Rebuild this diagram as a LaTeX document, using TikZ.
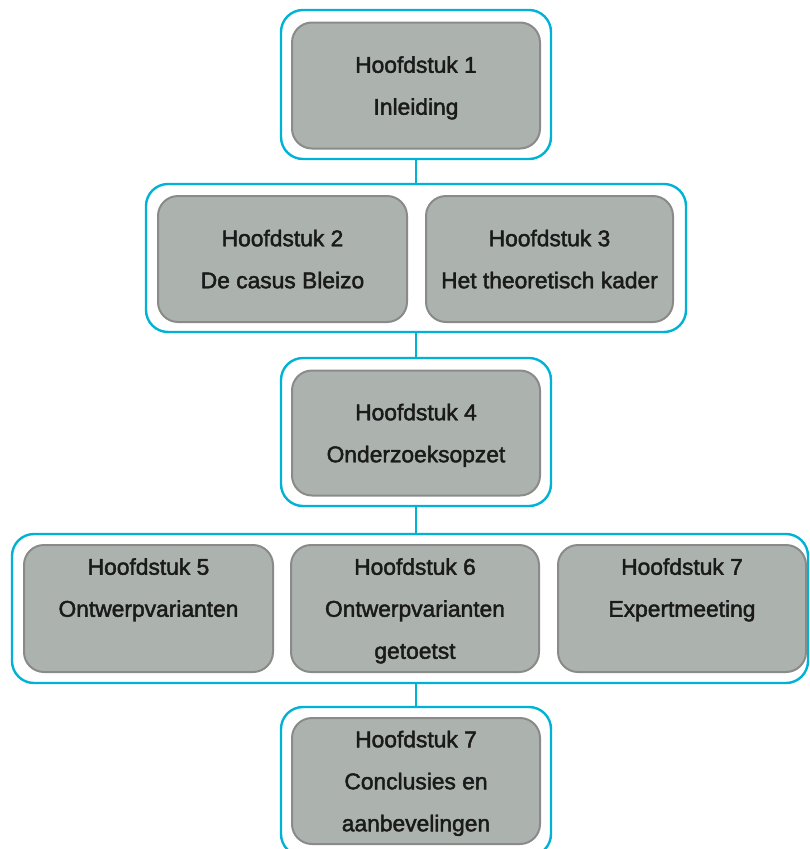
\documentclass[tikz,border=0pt]{standalone}
\usepackage{fontspec}
\setmainfont{Liberation Sans}
\newfontfamily\boxfont{Liberation Sans}[UprightFeatures={FakeBold=2}]
\begin{document}
\begin{tikzpicture}[x=1pt,y=-1pt,
  chapterframe/.style={draw=frameblue, line width=2.4pt, rounded corners=22pt,
    minimum height=149pt, inner sep=0pt},
  chapterbox/.style={draw=boxedge, fill=boxfill, line width=2pt, rounded corners=20pt,
    minimum width=248pt, minimum height=126pt, inner sep=0pt, align=center,
    text depth=0pt, text=textcol, font=\boxfont\fontsize{22.8}{42}\selectfont},
  link/.style={draw=frameblue, line width=2.4pt}
]
\definecolor{frameblue}{RGB}{0,178,212}
\definecolor{boxfill}{RGB}{172,179,175}
\definecolor{boxedge}{RGB}{138,138,138}
\definecolor{textcol}{RGB}{26,26,26}
\useasboundingbox (0,0) rectangle (810,849);
\begin{scope}
\clip (0,0) rectangle (810,849);

% group frames
\node[chapterframe, minimum width=270pt] (f1) at (416,84.5) {};
\node[chapterframe, minimum width=540pt, minimum height=148pt] (f2) at (416,258) {};
\node[chapterframe, minimum width=270pt, minimum height=148pt] (f3) at (416,432) {};
\node[chapterframe, minimum width=796pt] (f4) at (410,608.5) {};
\node[chapterframe, minimum width=270pt] (f5) at (416,781.5) {};

% connectors between the groups
\draw[link] (f1.south) -- (f2.north);
\draw[link] (f2.south) -- (f3.north);
\draw[link] (f3.south) -- (f3.south |- f4.north);
\draw[link] (f3.south |- f4.south) -- (f5.north);

% chapters
\node[chapterbox] (b1) at (416,85.5) {Hoofdstuk 1\\Inleiding};
\node[chapterbox, minimum width=249pt] (b2) at (282.5,259) {Hoofdstuk 2\\De casus Bleizo};
\node[chapterbox, minimum width=247pt] (b3) at (549.5,259) {Hoofdstuk 3\\Het theoretisch kader};
\node[chapterbox, minimum height=125pt] (b4) at (416,433) {Hoofdstuk 4\\Onderzoeksopzet};
\node[chapterbox, minimum width=249pt, minimum height=127pt] (b5) at (148.5,608.5) {Hoofdstuk 5\\Ontwerpvarianten\\\mbox{}};
\node[chapterbox, minimum height=127pt] (b6) at (415,608.5) {Hoofdstuk 6\\Ontwerpvarianten\\getoetst};
\node[chapterbox, minimum height=127pt] (b7) at (682,608.5) {Hoofdstuk 7\\Expertmeeting\\\mbox{}};
\node[chapterbox] (b8) at (416,781) {Hoofdstuk 7\\Conclusies en\\aanbevelingen};
\end{scope}
\end{tikzpicture}
\end{document}
